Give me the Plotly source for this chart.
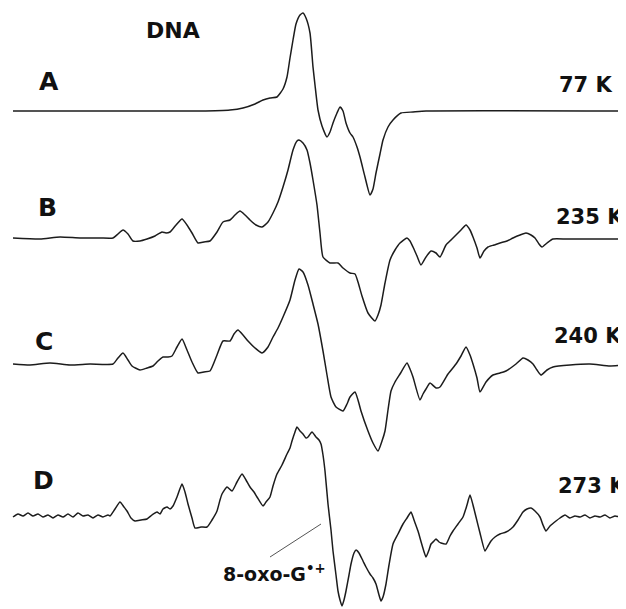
import plotly.graph_objects as go

# ---- Data: EPR spectra (field in arbitrary units, signal positive up) ----
a_field = [13, 200, 230, 243, 255, 263, 270, 277, 283, 287, 290, 293, 296, 300, 303, 306, 310, 313, 315, 318,
           322, 327, 330, 333, 337, 340, 343, 346, 350, 353, 357, 360, 365, 370, 373, 376, 380, 383, 388, 393,
           401, 413, 426, 626]
a_signal = [0, 0, 1, 3, 7, 11, 13, 14, 22, 34, 53, 71, 87, 96, 98, 93, 78, 44, 26, 1,
            -15, -26, -21, -12, -2, 4, 0, -12, -22, -26, -36, -46, -66, -84, -78, -62, -43, -29, -16, -9,
            -2, -1, 0, 0]

b_field = [13, 40, 60, 80, 100, 113, 118, 123, 128, 133, 140, 147, 155, 162, 166, 170, 176, 182, 187, 192,
           198, 204, 210, 217, 223, 230, 235, 240, 245, 250, 256, 262, 268, 273, 278, 283, 288, 293, 297, 299,
           303, 307, 310, 313, 317, 320, 323, 330, 338, 343, 350, 355, 358, 362, 368, 375, 378, 381, 385, 390,
           395, 400, 407, 410, 413, 417, 421, 426, 431, 436, 440, 446, 451, 456, 461, 466, 470, 473, 477, 480,
           484, 488, 494, 500, 507, 513, 520, 526, 531, 535, 539, 542, 547, 553, 566, 580, 600, 626]
b_signal = [0, -1, 1, 0, 0, 0, 4, 8, 4, -3, -3, -1, 2, 6, 5, 6, 13, 19, 13, 5,
            -5, -4, -3, 6, 16, 18, 23, 27, 23, 18, 13, 11, 16, 25, 36, 51, 68, 88, 97, 98,
            95, 88, 75, 58, 33, 5, -19, -25, -25, -30, -35, -36, -44, -58, -75, -83, -77, -67, -45, -22,
            -12, -5, 0, -3, -9, -18, -27, -19, -13, -15, -19, -7, -2, 3, 8, 13, 8, 1, -10, -20,
            -13, -9, -7, -5, -3, 0, 3, 5, 3, 0, -6, -9, -5, -1, -1, -1, -1, -1]

c_field = [13, 30, 50, 70, 90, 113, 118, 123, 128, 132, 140, 147, 153, 158, 163, 168, 172, 177, 182, 187,
           192, 198, 204, 210, 217, 223, 230, 234, 238, 243, 248, 255, 262, 268, 273, 278, 283, 290, 295, 299,
           303, 308, 313, 318, 323, 327, 331, 336, 343, 347, 350, 355, 358, 361, 368, 373, 378, 382, 385, 388,
           391, 395, 400, 407, 410, 413, 420, 423, 426, 430, 436, 440, 448, 456, 461, 466, 470, 473, 477, 480,
           486, 493, 500, 506, 516, 523, 528, 533, 537, 541, 547, 553, 570, 590, 610, 626]
c_signal = [1, 0, 2, 0, 1, 1, 7, 12, 5, -1, -5, -3, -1, 4, 8, 8, 9, 18, 26, 15,
            3, -8, -7, -6, 10, 24, 24, 31, 35, 30, 24, 17, 12, 18, 28, 37, 48, 65, 85, 96,
            93, 80, 61, 41, 14, -10, -32, -42, -46, -39, -32, -27, -35, -46, -66, -78, -86, -76, -66, -45,
            -26, -17, -9, 2, -4, -12, -35, -29, -24, -18, -23, -22, -9, 1, 9, 18, 10, 1, -13, -27,
            -17, -10, -8, -6, 1, 7, 5, 1, -5, -10, -5, -2, 0, 1, -1, 0]

d_field = [13, 18, 23, 28, 33, 38, 43, 48, 53, 58, 63, 68, 73, 78, 83, 88, 93, 98, 103, 108,
           110, 115, 120, 124, 127, 131, 135, 141, 147, 152, 157, 160, 163, 167, 170, 173, 177, 182, 185, 188,
           192, 195, 201, 207, 212, 217, 220, 222, 227, 232, 237, 242, 246, 250, 254, 257, 263, 266, 270, 273,
           277, 282, 287, 290, 292, 295, 297, 300, 303, 306, 308, 312, 316, 319, 321, 323, 325, 328, 331, 333,
           336, 338, 340, 342, 344, 346, 349, 351, 354, 356, 359, 363, 366, 370, 373, 376, 379, 381, 383, 386,
           389, 393, 398, 403, 407, 411, 414, 418, 422, 426, 429, 431, 434, 436, 439, 441, 446, 450, 453, 458,
           463, 467, 470, 473, 476, 480, 485, 488, 491, 495, 500, 506, 513, 518, 523, 527, 531, 535, 540, 543,
           546, 550, 556, 560, 565, 570, 575, 580, 585, 590, 595, 600, 605, 610, 615, 620, 626]
d_signal = [-1, 2, 0, 3, 0, 2, -1, 1, -2, 1, -1, 2, -1, 3, 0, 1, -2, 1, -1, 1,
            0, 7, 14, 9, 5, -2, -5, -4, -3, 1, 4, 2, 7, 9, 7, 10, 19, 32, 24, 12,
            -2, -12, -11, -11, -4, 5, 16, 22, 29, 25, 34, 42, 36, 29, 24, 19, 10, 14, 19, 30,
            42, 51, 62, 68, 75, 84, 89, 85, 82, 78, 79, 84, 79, 76, 72, 61, 45, 12, -14, -35,
            -59, -75, -84, -90, -84, -75, -59, -48, -37, -34, -37, -45, -51, -58, -62, -68, -79, -85, -81, -68,
            -49, -28, -18, -8, -2, 4, -4, -15, -29, -41, -34, -28, -25, -23, -26, -27, -28, -20, -15, -8,
            -1, 11, 21, 11, -1, -17, -35, -30, -25, -21, -18, -16, -11, -4, 4, 7, 8, 5, -1, -9,
            -15, -10, -5, -2, 1, -2, 0, -1, 1, -2, 0, -1, 1, -2, 0, -1, 0]

panel_labels = ["A", "B", "C", "D"]
temperatures = ["77 K", "235 K", "240 K", "273 K"]
sample_title = "DNA"
radical_label = "8-oxo-G<sup>•+</sup>"

# ---- Layout constants (page-pixel placement) ----
W, H = 626, 609
PAGE_MARGIN = 8          # default <body> margin of the written html page
FIG_W, FIG_H = W - PAGE_MARGIN, H - PAGE_MARGIN
baselines = [111, 238, 365, 516]
label_pos = [(49, 81), (47, 207), (44, 341), (43, 480)]
temp_pos = [(558, 85), (555, 217), (553, 336), (557, 486)]

fields = [a_field, b_field, c_field, d_field]
signals = [a_signal, b_signal, c_signal, d_signal]

fig = go.Figure()
for f, s, base in zip(fields, signals, baselines):
    fig.add_trace(go.Scatter(
        x=f, y=[base - v for v in s], mode="lines",
        line=dict(color="#1c1c1c", width=1.5, shape="spline", smoothing=0.5),
        hoverinfo="skip", showlegend=False))

# pointer line for the radical label
fig.add_trace(go.Scatter(x=[270, 321], y=[557, 524], mode="lines",
                         line=dict(color="#555555", width=1), hoverinfo="skip", showlegend=False))

font_family = "DejaVu Sans, Liberation Sans, sans-serif"
ann = []
ann.append(dict(x=173, y=30, text=f"<b>{sample_title}</b>", showarrow=False,
                font=dict(family=font_family, size=22, color="#111"), xanchor="center", yanchor="middle"))
for lab, (x, y) in zip(panel_labels, label_pos):
    ann.append(dict(x=x, y=y, text=f"<b>{lab}</b>", showarrow=False,
                    font=dict(family=font_family, size=25, color="#111"), xanchor="center", yanchor="middle"))
for t, (x, y) in zip(temperatures, temp_pos):
    ann.append(dict(x=x, y=y, text=f"<b>{t}</b>", showarrow=False, borderpad=0,
                    font=dict(family=font_family, size=21, color="#111"), xanchor="left", yanchor="middle"))
ann.append(dict(x=222, y=573, text=f"<b>{radical_label}</b>", showarrow=False, borderpad=0,
                font=dict(family=font_family, size=19, color="#111"), xanchor="left", yanchor="middle"))

fig.update_layout(
    width=FIG_W, height=FIG_H, margin=dict(l=0, r=0, t=0, b=0),
    paper_bgcolor="white", plot_bgcolor="white",
    xaxis=dict(range=[PAGE_MARGIN, W], visible=False, fixedrange=True),
    yaxis=dict(range=[H, PAGE_MARGIN], visible=False, fixedrange=True),
    annotations=ann, showlegend=False,
)

fig.write_html("out.html")
